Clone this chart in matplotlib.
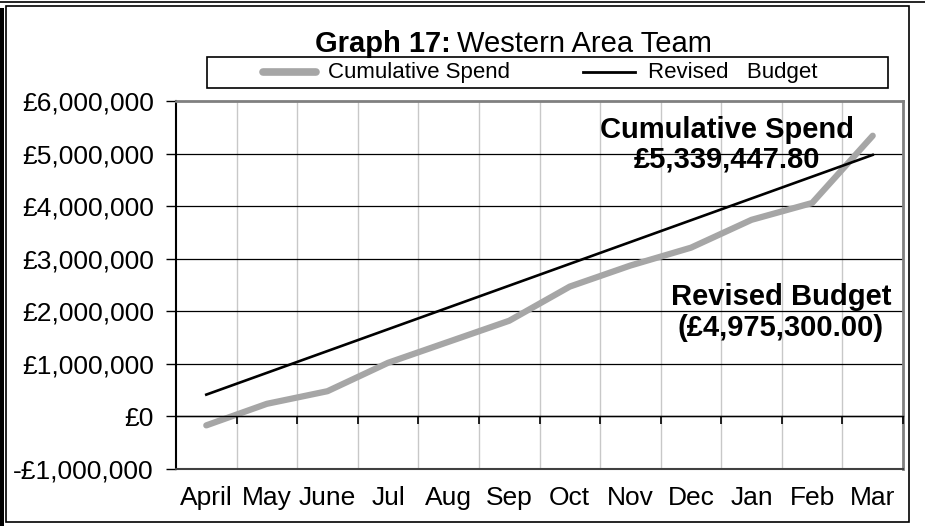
import matplotlib
matplotlib.use('Agg')
import matplotlib.pyplot as plt
from matplotlib.lines import Line2D
from matplotlib.patches import Rectangle
from matplotlib.ticker import FuncFormatter

plt.rcParams['font.family'] = ['Liberation Sans', 'DejaVu Sans']

months = ['April', 'May', 'June', 'Jul', 'Aug', 'Sep', 'Oct', 'Nov', 'Dec', 'Jan', 'Feb', 'Mar']
spend = [-170000, 240000, 480000, 1020000, 1420000, 1820000, 2470000, 2870000,
         3210000, 3740000, 4060000, 5339447.80]
budget = [414608, 829217, 1243825, 1658433, 2073042, 2487650, 2902258, 3316867,
          3731475, 4146083, 4560692, 4975300]
y_ticks = [-1000000, 0, 1000000, 2000000, 3000000, 4000000, 5000000, 6000000]

W, H = 925, 526
GREY = '#a6a6a6'


def money(v, pos=None):
    if v < 0:
        return f'-£{abs(v):,.0f}'
    return f'£{v:,.0f}'


def px(x, y):
    # pixel position (from top-left) -> figure fraction
    return x / W, 1 - y / H


fig = plt.figure(figsize=(W / 100, H / 100), dpi=100)
ax = fig.add_axes([176 / W, 1 - 469 / H, 727 / W, 368 / H])

x = [i + 0.5 for i in range(len(months))]
ax.plot(x, spend, color=GREY, lw=4.5, solid_capstyle='round', zorder=3)
ax.plot(x, budget, color='black', lw=1.9, zorder=4)

ax.set_xlim(0, 12)
ax.set_ylim(-1000000, 6000000)
ax.set_yticks(y_ticks)
ax.yaxis.set_major_formatter(FuncFormatter(money))
ax.tick_params(axis='y', labelsize=19, length=7, width=1, direction='out', pad=9)

ax.set_xticks(x)
ax.set_xticklabels(months)
ax.tick_params(axis='x', labelsize=19, length=0, pad=12)

# gridlines
for v in range(1, 12):
    ax.axvline(v, color='#c8c8c8', lw=1, zorder=1)
for v in y_ticks[1:-1]:
    ax.axhline(v, color='black', lw=0.9, zorder=2)

# x-axis line at zero with tick marks between categories
sec = ax.secondary_xaxis(1 / 7)
sec.set_zorder(5)
sec.set_xticks(range(13))
sec.set_xticklabels([])
sec.tick_params(length=6, width=1.2, direction='out', color='black')
sec.spines['bottom'].set_linewidth(1)
sec.spines['bottom'].set_color('black')

for s in ['top', 'right']:
    ax.spines[s].set_color('#808080')
    ax.spines[s].set_linewidth(2)
ax.spines['left'].set_linewidth(1.5)
ax.spines['bottom'].set_color('#404040')
ax.spines['bottom'].set_linewidth(1.5)

# annotations
bold = dict(fontsize=21, fontweight='bold', ha='center', va='center')
fig.text(*px(727, 130), 'Cumulative Spend', **bold)
fig.text(*px(727, 160), '£5,339,447.80', **bold)
fig.text(*px(781, 297), 'Revised Budget', **bold)
fig.text(*px(781, 328), '(£4,975,300.00)', **bold)

# title
fig.text(*px(451, 44), 'Graph 17:', fontsize=21, fontweight='bold', ha='right', va='center')
fig.text(*px(457, 44), 'Western Area Team', fontsize=21, ha='left', va='center')

# legend box
lx0, ly0 = px(207, 88)
fig.patches.append(Rectangle((lx0, ly0), 681 / W, 31 / H, transform=fig.transFigure,
                             fill=False, edgecolor='black', lw=1.2))
y_leg = 1 - 72 / H
fig.lines.append(Line2D([263 / W, 316 / W], [y_leg, y_leg], transform=fig.transFigure,
                        color=GREY, lw=5.5, solid_capstyle='round'))
fig.text(328 / W, y_leg, 'Cumulative Spend', fontsize=16, ha='left', va='center')
fig.lines.append(Line2D([583 / W, 635 / W], [y_leg, y_leg], transform=fig.transFigure,
                        color='black', lw=2))
fig.text(648 / W, y_leg, 'Revised   Budget', fontsize=16, ha='left', va='center')

# outer chart border
fig.patches.append(Rectangle((6 / W, 4 / H), 903 / W, 516 / H, transform=fig.transFigure,
                             fill=False, edgecolor='black', lw=1.2))
fig.patches.append(Rectangle((0, 0), 4 / W, 518 / H, transform=fig.transFigure,
                             facecolor='black', edgecolor='none'))
fig.lines.append(Line2D([0, 1], [1 - 2 / H, 1 - 2 / H], transform=fig.transFigure,
                        color='black', lw=1.2))

fig.savefig('out.png', dpi=100)
